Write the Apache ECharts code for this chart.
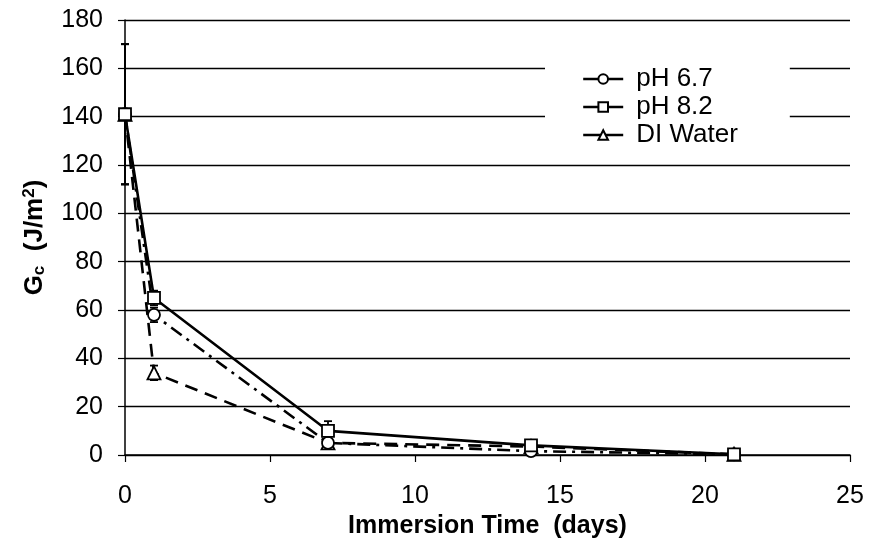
<!DOCTYPE html>
<html><head><meta charset="utf-8">
<script src="https://cdn.jsdelivr.net/npm/echarts@6/dist/echarts.min.js"></script>
<style>html,body{margin:0;padding:0;background:#fff}#c{width:872px;height:549px}</style>
</head><body><div id="c"></div>
<script>
var days = [0, 1, 7, 14, 21];
var seriesNames = ['pH 6.7', 'pH 8.2', 'DI Water'];
var ph67 = [141, 58, 5, 1.6, 0.3];
var ph82 = [141, 65, 10, 4, 0.3];
var diWater = [141, 34, 5, 3.5, 0.3];
var ph67Err = [29, 3, 1, 1, 0];
var ph82Err = [29, 3, 4, 1, 0];
var diWaterErr = [29, 3, 1, 1, 0];
var yTicks = [0, 20, 40, 60, 80, 100, 120, 140, 160, 180];
var xTicks = [0, 5, 10, 15, 20, 25];

var FONT = 'Liberation Sans, Arial, sans-serif';
var chart = echarts.init(document.getElementById('c'));

function pairs(vals){ return days.map(function(d,i){ return [d, vals[i]]; }); }
function errData(vals, errs){ return days.map(function(d,i){ return [d, vals[i]-errs[i], vals[i]+errs[i]]; }).filter(function(r){ return r[2]-r[1] > 0; }); }
function errSeries(vals, errs){
  return {
    type: 'custom', silent: true, z: 1,
    data: errData(vals, errs),
    renderItem: function(params, api){
      var x = api.value(0), lo = api.value(1), hi = api.value(2);
      var p1 = api.coord([x, lo]), p2 = api.coord([x, hi]);
      var c = 4;
      var st = {stroke:'#000', lineWidth:1.8};
      return {type:'group', children:[
        {type:'line', shape:{x1:p1[0],y1:p1[1],x2:p2[0],y2:p2[1]}, style:st},
        {type:'line', shape:{x1:p1[0]-c,y1:p1[1],x2:p1[0]+c,y2:p1[1]}, style:st},
        {type:'line', shape:{x1:p2[0]-c,y1:p2[1],x2:p2[0]+c,y2:p2[1]}, style:st}
      ]};
    }
  };
}
function lineSeries(name, vals, symbol, dash, size){
  return {
    name: name, type: 'line', data: pairs(vals), z: 3,
    symbol: symbol, symbolSize: size, showSymbol: true,
    itemStyle: {color:'#fff', borderColor:'#000', borderWidth:1.8},
    lineStyle: {color:'#000', width:2.6, type: dash},
    emphasis: {disabled:true}
  };
}

chart.setOption({
  animation: false,
  backgroundColor: '#fff',
  grid: {left:125, right:22, top:20, bottom:94},
  legend: {
    orient:'vertical', left:545, top:56,
    backgroundColor:'#fff', padding:[10,52,10,37],
    itemWidth:40, itemHeight:12, itemGap:2,
    data: seriesNames,
    lineStyle: {type:'solid', width:2.4},
    textStyle: {fontFamily:FONT, fontSize:26, color:'#000', padding:[0,0,0,8]}
  },
  xAxis: {
    type:'value', min:0, max:25, interval:5,
    name:'Immersion Time  (days)', nameLocation:'middle', nameGap:59,
    nameTextStyle:{fontFamily:FONT, fontSize:25, fontWeight:'bold', color:'#000'},
    axisLine:{show:true, onZero:false, lineStyle:{color:'#000', width:1.5}},
    axisTick:{show:true, length:7, lineStyle:{color:'#000', width:1.2}},
    axisLabel:{fontFamily:FONT, fontSize:25, color:'#000', margin:29},
    splitLine:{show:false}
  },
  yAxis: {
    type:'value', min:0, max:180, interval:20,
    name:'{b|G}{s|c}{b|  (J/m}{p|2}{b|)}', nameLocation:'middle', nameGap:77, nameRotate:90,
    nameTextStyle:{rich:{
      b:{fontFamily:FONT, fontSize:26, fontWeight:'bold', color:'#000'},
      s:{fontFamily:FONT, fontSize:17, fontWeight:'bold', color:'#000', verticalAlign:'bottom', padding:[10,0,0,0]},
      p:{fontFamily:FONT, fontSize:17, fontWeight:'bold', color:'#000', verticalAlign:'top', padding:[0,0,10,0]}
    }},
    axisLine:{show:true, lineStyle:{color:'#000', width:1.5}},
    axisTick:{show:true, length:7, lineStyle:{color:'#000', width:1.2}},
    axisLabel:{fontFamily:FONT, fontSize:25, color:'#000', margin:22},
    splitLine:{show:true, lineStyle:{color:'#000', width:1.3}}
  },
  series: [
    errSeries(ph67, ph67Err),
    errSeries(ph82, ph82Err),
    errSeries(diWater, diWaterErr),
    lineSeries(seriesNames[2], diWater, 'triangle', [13,8], 13),
    lineSeries(seriesNames[0], ph67, 'circle', [13,6,3,6], 12),
    lineSeries(seriesNames[1], ph82, 'rect', 'solid', 12)
  ]
});
</script></body></html>
